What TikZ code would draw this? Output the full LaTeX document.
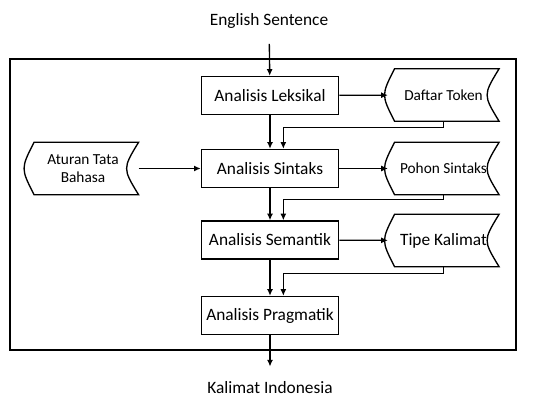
\documentclass[tikz,border=0pt]{standalone}
\usepackage{fontspec}
\setmainfont{Carlito}
\usetikzlibrary{arrows.meta}
\tikzset{
  proc/.style={draw,line width=1pt,minimum width=103pt,minimum height=28.5pt,inner sep=0pt,font=\fontsize{13}{15}\selectfont},
  store/.style={minimum width=83pt,minimum height=39pt,inner sep=0pt,align=center,font=\fontsize{11.5}{13}\selectfont},
  flow/.style={line width=1pt,-{Latex[length=5pt,width=4.5pt]}},
}
\begin{document}
\begin{tikzpicture}[x=0.75pt,y=-0.75pt]
\useasboundingbox (0,0) rectangle (541,398);
\draw[line width=1.2pt] (10,59) rectangle (516,350);
\node[font=\fontsize{13}{15}\selectfont] (es) at (269,21) {English Sentence};
\node[proc] (lek) at (270,95.5) {Analisis Leksikal};
\node[proc] (sin) at (270,168.5) {Analisis Sintaks};
\node[proc] (sem) at (270,240) {Analisis Semantik};
\node[proc] (prag) at (270,315.5) {Analisis Pragmatik};
\node[store] (tok) at (443.5,95) {Daftar Token};
\node[store] (pohon) at (443.5,168.5) {Pohon Sintaks};
\node[store,font=\fontsize{13}{15}\selectfont] (tipe) at (443.5,240.5) {Tipe Kalimat};
\node[store] (atur) at (83,168.5) {Aturan Tata\\Bahasa};
\node[font=\fontsize{13}{15}\selectfont] (ki) at (270,388) {Kalimat Indonesia};
\foreach \n in {tok,pohon,tipe,atur}
  \draw[line width=1pt] ([xshift=5pt]\n.north west) .. controls ([xshift=-5pt]\n.west) .. ([xshift=5pt]\n.south west) -- (\n.south east) .. controls ([xshift=-12pt]\n.east) .. (\n.north east) -- cycle;
\draw[flow,shorten <=8pt] (es) -- (lek);
\draw[flow] (lek) -- (sin); \draw[flow] (sin) -- (sem); \draw[flow] (sem) -- (prag);
\draw[flow] (lek) -- (tok); \draw[flow] (sin) -- (pohon); \draw[flow] (sem) -- (tipe);
\draw[flow] (atur) -- (sin);
\draw[flow] (tok.south) -- ++(0,6) -| ([xshift=10pt]sin.north);
\draw[flow] (pohon.south) -- ++(0,5) -| ([xshift=10pt]sem.north);
\draw[flow] (tipe.south) -- ++(0,7) -| ([xshift=10pt]prag.north);
\draw[flow,shorten >=8pt] (prag) -- (ki);
\end{tikzpicture}
\end{document}
